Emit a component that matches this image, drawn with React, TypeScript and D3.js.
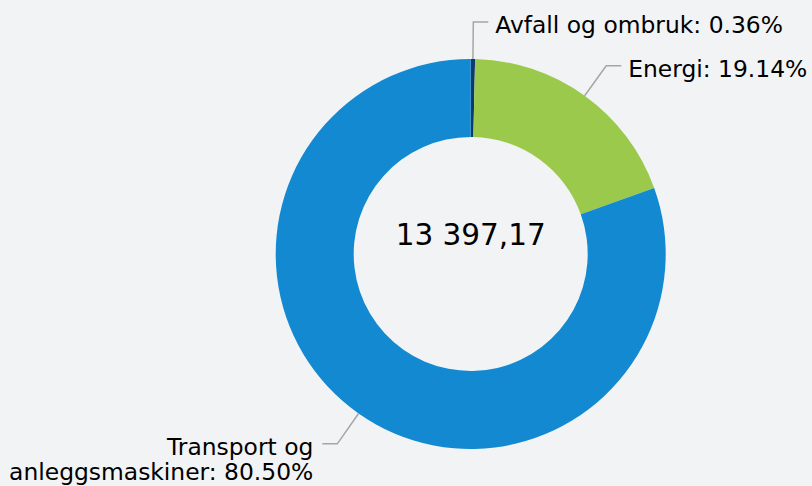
import React from "react";
import * as d3 from "d3";

const categories = ["Avfall og ombruk", "Energi", "Transport og anleggsmaskiner"];
const percents = [0.36, 19.14, 80.5];
const colors = ["#0b3a70", "#9bc94b", "#1289d0"];
const totalLabel = "13 397,17";

const W = 812;
const H = 486;
const FONT = "'DejaVu Sans', Verdana, sans-serif";
const LABEL_SIZE = 23.4;

function measure(text: string, size: number): number {
  const c = document.createElement("canvas").getContext("2d");
  if (!c) return text.length * size * 0.6;
  c.font = `${size}px 'DejaVu Sans'`;
  return c.measureText(text).width;
}

function wrap(text: string, maxW: number): string[] {
  const words = text.split(" ");
  const lines: string[] = [];
  let cur = "";
  for (const w of words) {
    const t = cur ? cur + " " + w : w;
    if (cur && measure(t, LABEL_SIZE) > maxW) {
      lines.push(cur);
      cur = w;
    } else cur = t;
  }
  if (cur) lines.push(cur);
  return lines;
}

export default function App() {
  React.useEffect(() => {
    document.body.style.margin = "0";
  }, []);
  const cx = 470.7;
  const cy = 254;
  const rOuter = 195;
  const rInner = 117;
  const rLabel = 232;

  const pie = d3.pie<number>().sort(null).value((d) => d).startAngle(0).endAngle(2 * Math.PI);
  const arcs = pie(percents);
  const arc = d3.arc<d3.PieArcDatum<number>>().innerRadius(rInner).outerRadius(rOuter);

  return (
    <svg width={W} height={H} style={{ display: "block", background: "#f2f3f5" }}>
      <rect width={W} height={H} fill="#f2f3f5" />
      <g transform={`translate(${cx},${cy})`}>
        {arcs.map((a, i) => (
          <path key={i} d={arc(a) || ""} fill={colors[i]} />
        ))}
      </g>
      {arcs.map((a, i) => {
        const mid = (a.startAngle + a.endAngle) / 2;
        const sx = cx + rOuter * Math.sin(mid);
        const sy = cy - rOuter * Math.cos(mid);
        const kx = cx + rLabel * Math.sin(mid);
        const ky = cy - rLabel * Math.cos(mid);
        const right = Math.sin(mid) >= 0;
        const ex = kx + (right ? 15 : -15);
        const tx = ex + (right ? 7 : -9);
        const text = `${categories[i]}: ${percents[i].toFixed(2)}%`;
        const avail = right ? W - tx : tx;
        const lines = wrap(text, avail);
        return (
          <g key={i}>
            <path
              d={`M${sx},${sy}L${kx},${ky}L${ex},${ky}`}
              fill="none"
              stroke="#a6a6a6"
              strokeWidth={1.5}
            />
            <text
              x={tx}
              y={ky + 11.3}
              fontFamily={FONT}
              fontSize={LABEL_SIZE}
              fill="#000"
              textAnchor={right ? "start" : "end"}
            >
              {lines.map((l, j) => (
                <tspan key={j} x={tx} dy={j === 0 ? 0 : 25}>
                  {l}
                </tspan>
              ))}
            </text>
          </g>
        );
      })}
      <text
        x={cx}
        y={cy - 9}
        fontFamily={FONT}
        fontSize={29.5}
        textAnchor="middle"
        fill="#000"
      >
        {totalLabel}
      </text>
    </svg>
  );
}
